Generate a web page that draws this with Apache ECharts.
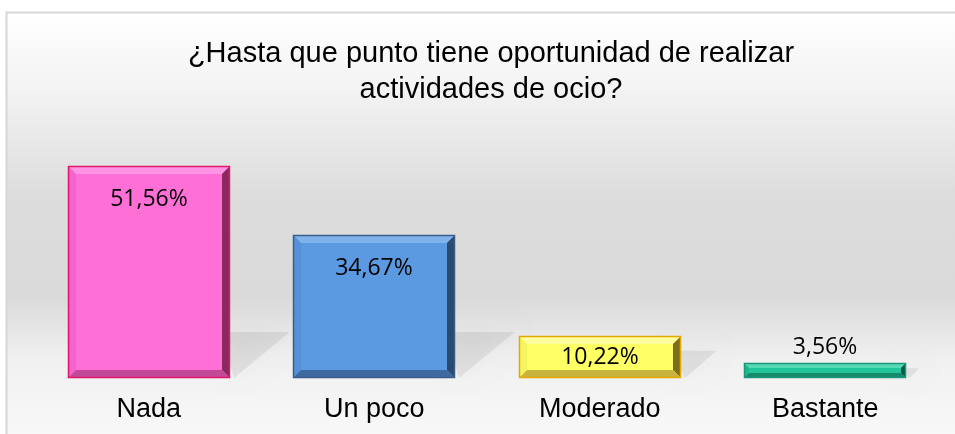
<!DOCTYPE html>
<html>
<head>
<meta charset="utf-8">
<script src="https://cdn.jsdelivr.net/npm/echarts@6/dist/echarts.min.js"></script>
<style>
  html, body { margin: 0; padding: 0; background: #fff; }
  #chart { width: 955px; height: 434px; }
</style>
</head>
<body>
<div id="chart"></div>
<script>
// datos
var categorias = ['Nada', 'Un poco', 'Moderado', 'Bastante'];
var porcentajes = [51.56, 34.67, 10.22, 3.56];
var titulo = '¿Hasta que punto tiene oportunidad de realizar\nactividades de ocio?';

// colores de cada barra (relleno, bisel claro, izq, der oscuro, abajo, borde)
var paleta = [
  { fill: '#ff6fd6', top: '#ff94e4', left: '#f563cc', right: '#8a2860', bottom: '#c24a98', edge: '#e0186a' },
  { fill: '#5b9ae0', top: '#80b2ec', left: '#5590d8', right: '#2c4a70', bottom: '#3f6aa0', edge: '#3a5d8a' },
  { fill: '#ffff66', top: '#ffff9e', left: '#f4f45c', right: '#7d6e1c', bottom: '#c8b43e', edge: '#e6a800' },
  { fill: '#22c49a', top: '#55dab4', left: '#1eb890', right: '#0d5646', bottom: '#178a6c', edge: '#18987a' }
];
// posicion de la etiqueta: dentro arriba, centro, encima
var posEtiqueta = ['insideTop', 'insideTop', 'inside', 'top'];

function fmt(v) {
  return v.toFixed(2).replace('.', ',') + '%';
}

function renderBar(params, api) {
  var idx = params.dataIndex;
  var i = api.value(0);
  var v = api.value(1);
  var top = api.coord([i, v]);
  var base = api.coord([i, 0]);
  var w = api.size([1, 0])[0] * 0.72;
  var x0 = Math.round(top[0] - w / 2), x1 = Math.round(top[0] + w / 2);
  var y0 = Math.round(top[1]), y1 = Math.round(base[1]);
  var h = y1 - y0;
  var b = Math.min(8, h / 3);
  var c = paleta[idx];
  var sh = Math.min(46, h * 0.65);

  var ty;
  if (posEtiqueta[idx] === 'insideTop') ty = y0 + 33;
  else if (posEtiqueta[idx] === 'inside') ty = (y0 + y1) / 2;
  else ty = y0 - 16;

  return {
    type: 'group',
    children: [
      // sombra proyectada, difusa
      {
        type: 'polygon',
        shape: { points: [[x1 - 10, y1 - sh], [x1 + sh * 1.3, y1 - sh], [x1 + 4, y1]] },
        style: { fill: 'rgba(0,0,0,0.07)', shadowBlur: 20, shadowColor: 'rgba(0,0,0,0.3)' },
        silent: true
      },
      { type: 'rect', shape: { x: x0, y: y0, width: x1 - x0, height: h }, style: { fill: c.fill } },
      { type: 'polygon', shape: { points: [[x0, y0], [x1, y0], [x1 - b, y0 + b], [x0 + b, y0 + b]] }, style: { fill: c.top } },
      { type: 'polygon', shape: { points: [[x0, y0], [x0 + b, y0 + b], [x0 + b, y1 - b], [x0, y1]] }, style: { fill: c.left } },
      { type: 'polygon', shape: { points: [[x1, y0], [x1, y1], [x1 - b, y1 - b], [x1 - b, y0 + b]] }, style: { fill: c.right } },
      { type: 'polygon', shape: { points: [[x0, y1], [x1, y1], [x1 - b, y1 - b], [x0 + b, y1 - b]] }, style: { fill: c.bottom } },
      { type: 'rect', shape: { x: x0 + 0.5, y: y0 + 0.5, width: x1 - x0 - 1, height: h - 1 }, style: { fill: null, stroke: c.edge, lineWidth: 1.5 } },
      {
        type: 'text',
        style: {
          text: fmt(v), x: (x0 + x1) / 2, y: ty,
          align: 'center', verticalAlign: 'middle',
          fill: '#000', font: '23px "Open Sans", sans-serif'
        }
      }
    ]
  };
}

var chart = echarts.init(document.getElementById('chart'));
var option = {
  animation: false,
  graphic: [{
    type: 'rect',
    z: -10,
    shape: { x: 6.5, y: 12.5, width: 960, height: 430 },
    style: {
      fill: new echarts.graphic.LinearGradient(0, 0, 0, 1, [
        { offset: 0, color: '#ffffff' },
        { offset: 0.18, color: '#f3f3f3' },
        { offset: 0.42, color: '#dddddd' },
        { offset: 0.66, color: '#dadada' },
        { offset: 0.8, color: '#f0f0f0' },
        { offset: 1, color: '#f9f9f9' }
      ]),
      stroke: '#d6d6d6',
      lineWidth: 2
    }
  }],
  title: {
    text: titulo,
    left: 486,
    textAlign: 'center',
    top: 31,
    textStyle: {
      fontFamily: '"Liberation Sans", Arial, sans-serif',
      fontWeight: 'normal',
      fontSize: 29,
      lineHeight: 36,
      color: '#000'
    }
  },
  grid: { left: 36, right: 17, top: 131, bottom: 56 },
  xAxis: {
    type: 'category',
    data: categorias,
    axisLine: { show: false },
    axisTick: { show: false },
    axisLabel: {
      margin: 18,
      fontSize: 27,
      color: '#000',
      fontFamily: '"Liberation Sans", Arial, sans-serif'
    }
  },
  yAxis: {
    type: 'value',
    min: 0,
    max: 60,
    show: false,
    splitLine: { show: false }
  },
  series: [{
    type: 'custom',
    renderItem: renderBar,
    data: porcentajes.map(function (v, i) { return [i, v]; })
  }]
};
chart.setOption(option);
</script>
</body>
</html>
